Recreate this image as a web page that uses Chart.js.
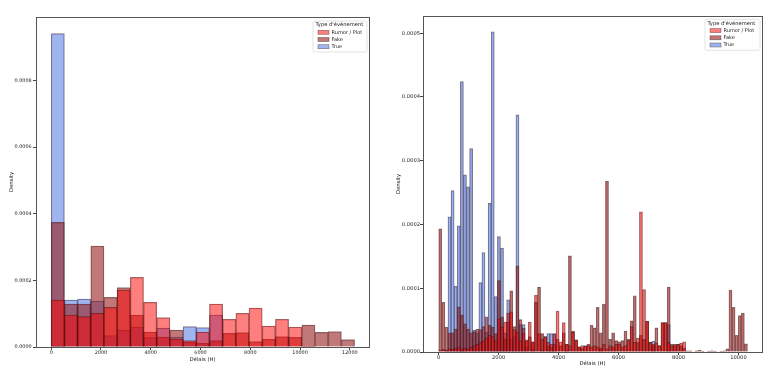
<!DOCTYPE html>
<html>
<head>
<meta charset="utf-8">
<script src="https://cdn.jsdelivr.net/npm/chart.js@4.4.1/dist/chart.umd.min.js"></script>
<style>
  html, body { margin: 0; padding: 0; background: #fff; }
  #wrap { position: relative; width: 768px; height: 374px; }
  canvas { position: absolute; top: 0; }
</style>
</head>
<body>
<div id="wrap">
  <canvas id="histCoarse" width="384" height="374" style="left:0"></canvas>
  <canvas id="histFine" width="384" height="374" style="left:384px"></canvas>
</div>
<script>
// Event types (legend order)
const eventTypes = ['Rumor / Plot', 'Fake', 'True'];
const legendTitle = "Type d'événement";
const xTitle = 'Délais (H)';
const yTitle = 'Density';

// Left panel: 23 bins of ~530 h starting at 0
const coarseBinStart = 0;
const coarseBinWidth = 530;
const coarseRumor = [141e-6, 96e-6, 91e-6, 101e-6, 119e-6, 171e-6, 209e-6, 134e-6, 88e-6, 24e-6, 19e-6, 45e-6,
  129e-6, 83e-6, 101e-6, 117e-6, 63e-6, 83e-6, 60e-6, 2e-6, 0, 0, 0];
const coarseFake = [374e-6, 129e-6, 129e-6, 303e-6, 149e-6, 178e-6, 96e-6, 45e-6, 30e-6, 51e-6, 15e-6, 11e-6,
  19e-6, 41e-6, 43e-6, 16e-6, 23e-6, 31e-6, 29e-6, 66e-6, 44e-6, 46e-6, 22e-6];
const coarseTrue = [940e-6, 141e-6, 144e-6, 138e-6, 34e-6, 51e-6, 60e-6, 28e-6, 57e-6, 30e-6, 61e-6, 58e-6,
  96e-6, 0, 0, 0, 0, 0, 0, 0, 0, 0, 0];
const coarseXTicks = [0, 2000, 4000, 6000, 8000, 10000, 12000];
const coarseYTicks = [0, 0.0002, 0.0004, 0.0006, 0.0008];

// Right panel: 100 bins of ~103 h starting at 0
const fineBinStart = 0;
const fineBinWidth = 103;
const fineRumor = [
  3e-6, 4e-6, 3e-6, 5e-6, 4e-6, 6e-6, 8e-6, 5e-6, 6e-6, 5e-6,
  8e-6, 10e-6, 12e-6, 15e-6, 18e-6, 22e-6, 26e-6, 24e-6, 18e-6, 52e-6,
  39e-6, 47e-6, 61e-6, 63e-6, 35e-6, 31e-6, 18e-6, 29e-6, 19e-6, 47e-6,
  16e-6, 89e-6, 29e-6, 20e-6, 24e-6, 15e-6, 12e-6, 28e-6, 64e-6, 16e-6,
  46e-6, 12e-6, 10e-6, 31e-6, 19e-6, 8e-6, 10e-6, 9e-6, 10e-6, 8e-6,
  10e-6, 8e-6, 6e-6, 12e-6, 5e-6, 10e-6, 8e-6, 12e-6, 12e-6, 8e-6,
  10e-6, 18e-6, 40e-6, 15e-6, 22e-6, 220e-6, 98e-6, 48e-6, 15e-6, 12e-6,
  14e-6, 10e-6, 46e-6, 46e-6, 15e-6, 10e-6, 10e-6, 12e-6, 14e-6, 16e-6,
  0, 0, 0, 0, 0, 0, 0, 0, 0, 0,
  0, 0, 0, 0, 0, 0, 0, 0, 0, 0];
const fineFake = [
  193e-6, 78e-6, 39e-6, 30e-6, 30e-6, 36e-6, 71e-6, 58e-6, 44e-6, 36e-6,
  30e-6, 32e-6, 36e-6, 35e-6, 40e-6, 55e-6, 42e-6, 39e-6, 29e-6, 112e-6,
  55e-6, 21e-6, 47e-6, 96e-6, 40e-6, 135e-6, 51e-6, 37e-6, 18e-6, 24e-6,
  16e-6, 78e-6, 102e-6, 29e-6, 24e-6, 10e-6, 8e-6, 12e-6, 20e-6, 10e-6,
  30e-6, 12e-6, 151e-6, 33e-6, 19e-6, 8e-6, 6e-6, 10e-6, 12e-6, 42e-6,
  38e-6, 70e-6, 30e-6, 75e-6, 268e-6, 20e-6, 30e-6, 18e-6, 16e-6, 18e-6,
  33e-6, 20e-6, 49e-6, 88e-6, 15e-6, 26e-6, 20e-6, 48e-6, 15e-6, 10e-6,
  38e-6, 10e-6, 46e-6, 46e-6, 102e-6, 12e-6, 12e-6, 12e-6, 10e-6, 6e-6,
  2e-6, 2e-6, 0, 2e-6, 3e-6, 1e-6, 0, 1e-6, 2e-6, 1e-6,
  0, 1e-6, 2e-6, 5e-6, 97e-6, 70e-6, 26e-6, 57e-6, 61e-6, 13e-6];
const fineTrue = [
  0, 0, 3e-6, 212e-6, 253e-6, 103e-6, 198e-6, 424e-6, 278e-6, 259e-6,
  319e-6, 34e-6, 30e-6, 109e-6, 156e-6, 31e-6, 233e-6, 502e-6, 87e-6, 181e-6,
  163e-6, 30e-6, 82e-6, 20e-6, 25e-6, 372e-6, 43e-6, 43e-6, 8e-6, 0,
  5e-6, 0, 0, 3e-6, 0, 29e-6, 29e-6, 29e-6, 0, 0,
  0, 3e-6, 0, 0, 0, 0, 0, 0, 0, 0,
  0, 0, 4e-6, 0, 0, 0, 0, 0, 0, 0,
  0, 0, 0, 0, 0, 0, 0, 0, 0, 17e-6,
  0, 0, 0, 0, 43e-6, 0, 0, 0, 0, 0,
  0, 0, 0, 0, 0, 0, 0, 0, 0, 0,
  0, 0, 0, 0, 0, 0, 0, 0, 0, 0];
const fineXTicks = [0, 2000, 4000, 6000, 8000, 10000];
const fineYTicks = [0, 0.0001, 0.0002, 0.0003, 0.0004, 0.0005];

const fillColors = ['rgba(255, 0, 0, 0.5)', 'rgba(150, 30, 30, 0.6)', 'rgba(65, 105, 225, 0.5)'];
const edgeColor = 'rgba(40, 20, 20, 0.55)';
const fontFamily = '"DejaVu Sans", sans-serif';
const textColor = '#222';

// frame around the plot area + matplotlib-like legend box in the upper right
const panelDecor = {
  id: 'panelDecor',
  afterDraw(chart, args, opts) {
    const ctx = chart.ctx;
    const area = chart.chartArea;
    ctx.save();
    ctx.strokeStyle = '#555';
    ctx.lineWidth = 1;
    ctx.strokeRect(Math.round(area.left) + 0.5, Math.round(area.top) + 0.5,
      Math.round(area.right - area.left), Math.round(area.bottom - area.top));

    const w = opts.boxWidth, h = opts.boxHeight;
    const x = area.right - opts.insetRight - w;
    const y = area.top + opts.insetTop;
    ctx.fillStyle = 'rgba(255, 255, 255, 0.9)';
    ctx.strokeStyle = '#dcdcdc';
    ctx.lineWidth = 0.8;
    ctx.beginPath();
    ctx.roundRect(x, y, w, h, 1.5);
    ctx.fill();
    ctx.stroke();

    ctx.textBaseline = 'middle';
    ctx.textAlign = 'left';
    ctx.fillStyle = textColor;
    ctx.font = '5.2px ' + fontFamily;
    ctx.fillText(legendTitle, x + 2.5, y + 4);
    chart.data.datasets.forEach((ds, i) => {
      const ry = y + 11.3 + i * 7.2;
      ctx.fillStyle = ds.backgroundColor;
      ctx.fillRect(x + 5, ry - 2, 11, 4);
      ctx.strokeStyle = edgeColor;
      ctx.lineWidth = 0.6;
      ctx.strokeRect(x + 5, ry - 2, 11, 4);
      ctx.fillStyle = textColor;
      ctx.font = '5px ' + fontFamily;
      ctx.fillText(ds.label, x + 18.5, ry);
    });
    ctx.restore();
  }
};

function makeHist(canvasId, cfg) {
  const series = [cfg.rumor, cfg.fake, cfg.truth];
  const datasets = eventTypes.map((name, k) => ({
    label: name,
    data: series[k].map((v, i) => ({ x: cfg.binStart + (i + 0.5) * cfg.binWidth, y: v })),
    backgroundColor: fillColors[k],
    borderColor: edgeColor,
    borderWidth: 0.6,
    grouped: false,
    barPercentage: 1.0,
    categoryPercentage: 1.0
  }));

  return new Chart(document.getElementById(canvasId), {
    type: 'bar',
    data: { datasets: datasets },
    plugins: [panelDecor],
    options: {
      responsive: false,
      animation: false,
      events: [],
      layout: { padding: cfg.padding },
      plugins: {
        legend: { display: false },
        tooltip: { enabled: false },
        panelDecor: cfg.legendBox
      },
      scales: {
        x: {
          type: 'linear',
          min: cfg.xMin,
          max: cfg.xMax,
          offset: false,
          afterBuildTicks: s => { s.ticks = cfg.xTicks.map(v => ({ value: v })); },
          afterFit: s => { s.height = cfg.xAxisHeight; },
          ticks: {
            autoSkip: false,
            maxRotation: 0,
            padding: 0,
            color: textColor,
            font: { family: fontFamily, size: cfg.tickSize },
            callback: v => String(v)
          },
          grid: { display: true, drawOnChartArea: false, drawTicks: true, tickLength: 3, color: '#444', offset: false },
          border: { display: false },
          title: {
            display: true,
            text: xTitle,
            color: textColor,
            font: { family: fontFamily, size: 5.3 },
            padding: { top: 0, bottom: cfg.xTitlePad }
          }
        },
        y: {
          min: 0,
          max: cfg.yMax,
          afterBuildTicks: s => { s.ticks = cfg.yTicks.map(v => ({ value: v })); },
          afterFit: s => { s.width = cfg.yAxisWidth; },
          ticks: {
            padding: cfg.yTickPad,
            color: textColor,
            font: { family: fontFamily, size: cfg.tickSize },
            callback: v => v.toFixed(4)
          },
          grid: { display: true, drawOnChartArea: false, drawTicks: true, tickLength: 3, color: '#444' },
          border: { display: false },
          title: {
            display: true,
            text: yTitle,
            color: textColor,
            font: { family: fontFamily, size: 5.3 },
            padding: { top: cfg.yTitlePad, bottom: 0 }
          }
        }
      }
    }
  });
}

makeHist('histCoarse', {
  rumor: coarseRumor, fake: coarseFake, truth: coarseTrue,
  binStart: coarseBinStart, binWidth: coarseBinWidth,
  xMin: -610, xMax: 12770, yMax: 0.00099,
  xTicks: coarseXTicks, yTicks: coarseYTicks,
  padding: { left: 0, right: 15, top: 17, bottom: 0 },
  xAxisHeight: 27, yAxisWidth: 36, tickSize: 4.9,
  xTitlePad: 11.5, yTitlePad: 8.8, yTickPad: 1.3,
  legendBox: { boxWidth: 54, boxHeight: 31, insetRight: 2, insetTop: 4 }
});

makeHist('histFine', {
  rumor: fineRumor, fake: fineFake, truth: fineTrue,
  binStart: fineBinStart, binWidth: fineBinWidth,
  xMin: -524, xMax: 10785, yMax: 0.000527,
  xTicks: fineXTicks, yTicks: fineYTicks,
  padding: { left: 0, right: 6, top: 16, bottom: 0 },
  xAxisHeight: 22, yAxisWidth: 39, tickSize: 5.2,
  xTitlePad: 7, yTitlePad: 11.8, yTickPad: 0,
  legendBox: { boxWidth: 55, boxHeight: 31, insetRight: 2, insetTop: 3.3 }
});
</script>
</body>
</html>
